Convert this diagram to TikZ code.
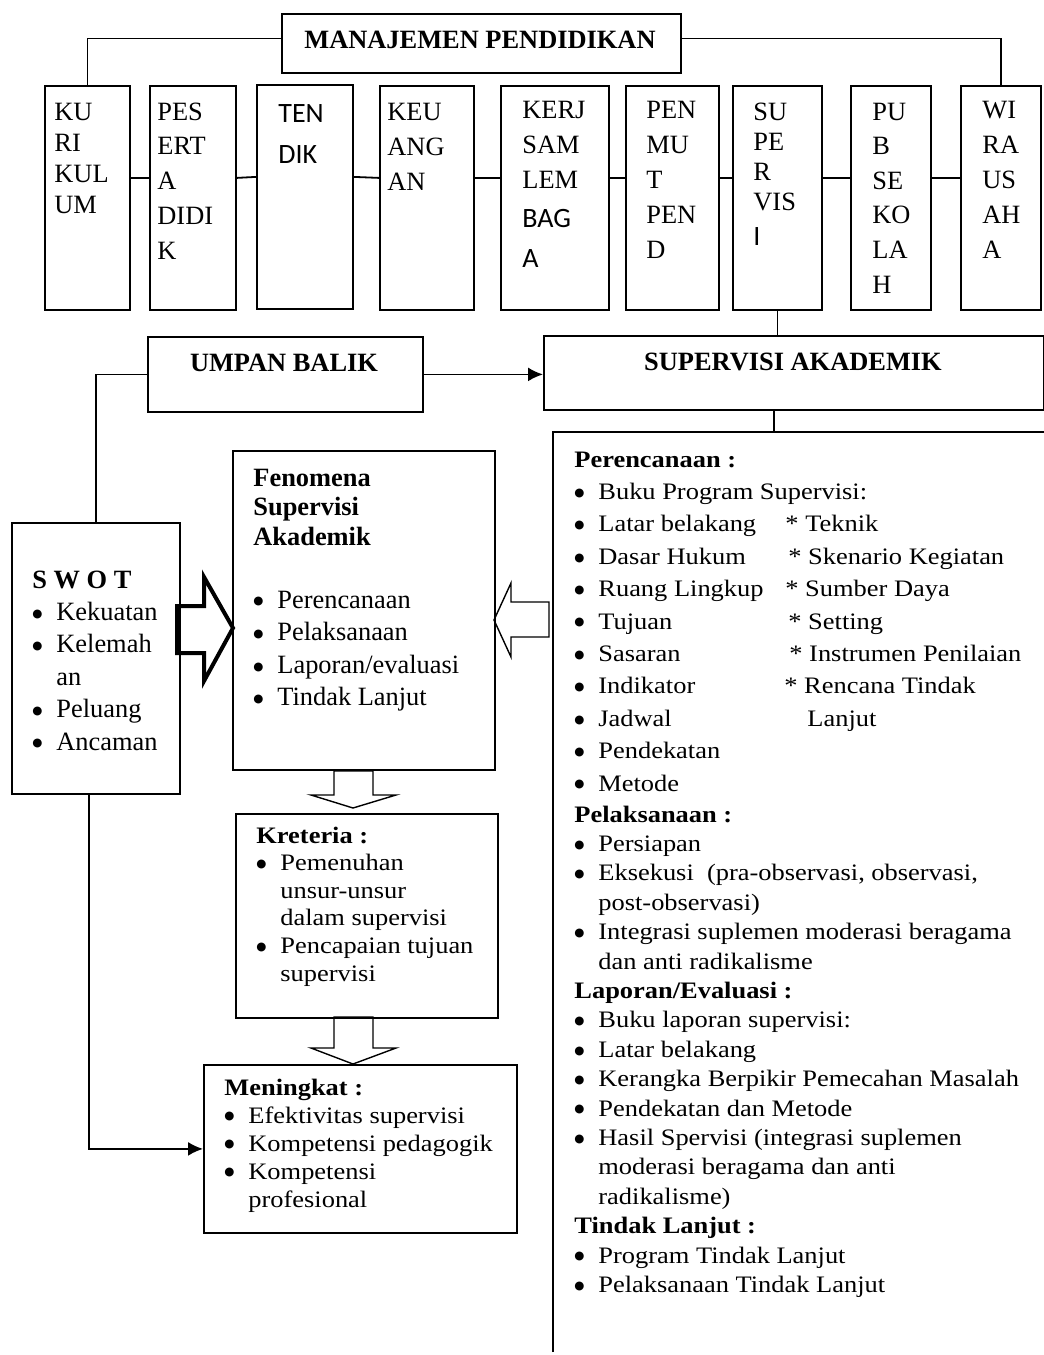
\documentclass[tikz,border=0pt]{standalone}
\usepackage{fontspec}
\setmainfont{Liberation Serif}
\newfontfamily\widefont{Liberation Serif}[FakeStretch=1.12]
\newfontfamily\calib{Carlito}
\newfontfamily\dotfont{DejaVu Sans}
\usetikzlibrary{arrows.meta}

\newcommand{\txtrows}[1]{\begin{tabular}[t]{@{}l@{}}#1\end{tabular}}
\newcommand{\itm}[1]{\makebox[12pt][l]{\raisebox{1.6pt}{\dotfont\fontsize{5.8}{6}\selectfont ●}}#1}
\newcommand{\ind}{\hspace*{12pt}}
\newcommand{\sansbig}{\calib\fontsize{14}{17.5}\selectfont}

\begin{document}
\begin{tikzpicture}[x=0.5pt,y=-0.5pt,>={Latex[length=7.5pt,width=7pt]},
    box/.style={draw,line width=0.9pt,rectangle,inner sep=0pt,anchor=north west},
    ln/.style={line width=0.9pt},
    hd/.style={anchor=base,inner sep=0pt,font=\bfseries\fontsize{13.2}{16}\selectfont},
    txt/.style={anchor=base west,inner sep=0pt},
    blk/.style={line width=0.7pt,line join=miter}]

    \useasboundingbox (0,0) rectangle (1044,1355);

    % top row
    \node[box,minimum width=199.5pt,minimum height=29.5pt] (manaj) at (281,13) {};
    \node[hd] (tmanaj) at (480,48) {MANAJEMEN PENDIDIKAN};

    \node[box,minimum width=42.5pt,minimum height=112pt] (kuri) at (44,85) {};
    \node[box,minimum width=43pt,minimum height=112pt] (pes) at (149,85) {};
    \node[box,minimum width=48pt,minimum height=112pt] (ten) at (256,84) {};
    \node[box,minimum width=47pt,minimum height=112pt] (keu) at (379,85) {};
    \node[box,minimum width=54pt,minimum height=112pt] (kerj) at (500,85) {};
    \node[box,minimum width=46.5pt,minimum height=112pt] (penmut) at (625,85) {};
    \node[box,minimum width=44.5pt,minimum height=112pt] (sup) at (732,85) {};
    \node[box,minimum width=40pt,minimum height=112pt] (pub) at (850,85) {};
    \node[box,minimum width=40pt,minimum height=112pt] (wira) at (960,85) {};

    \node[txt,font=\fontsize{13.2}{15.5}\selectfont] (tkuri) at (54,120) {\txtrows{KU\\RI\\KUL\\UM}};
    \node[txt,font=\fontsize{13.2}{17.4}\selectfont] (tpes) at (157,120) {\txtrows{PES\\ERT\\A\\DIDI\\K}};
    \node[txt,font=\calib\fontsize{14}{20.5}\selectfont] (tten) at (278,122) {\txtrows{TEN\\DIK}};
    \node[txt,font=\fontsize{13.2}{17.7}\selectfont] (tkeu) at (387,120) {\txtrows{KEU\\ANG\\AN}};
    \node[txt,font=\fontsize{13.2}{17.5}\selectfont] (tkerj) at (522,118) {\txtrows{KERJ\\SAM\\LEM\\[2pt]{\sansbig BAG}\\[2.5pt]{\sansbig A}}};
    \node[txt,font=\fontsize{13.2}{17.5}\selectfont] (tpenmut) at (646,118) {\txtrows{PEN\\MU\\T\\PEN\\D}};
    \node[txt,font=\fontsize{13.2}{15}\selectfont] (tsup) at (753,120) {\txtrows{SU\\PE\\R\\VIS\\[2.5pt]{\sansbig I}}};
    \node[txt,font=\fontsize{13.2}{17.3}\selectfont] (tpub) at (872,120) {\txtrows{PU\\B\\SE\\KO\\LA\\H}};
    \node[txt,font=\fontsize{13.2}{17.5}\selectfont] (twira) at (982,118) {\txtrows{WI\\RA\\US\\AH\\A}};

    \draw[ln] ([yshift=2.5pt]manaj.west) -| (kuri.north);
    \draw[ln] ([yshift=2.5pt]manaj.east) -| (wira.north);
    \foreach \a/\b in {kuri/pes,pes/ten,ten/keu,keu/kerj,kerj/penmut,penmut/sup,sup/pub,pub/wira}
        \draw[ln] ([yshift=10pt]\a.east) -- ([yshift=10pt]\b.west);

    % middle
    \node[box,minimum width=137.5pt,minimum height=37.5pt] (umpan) at (147,336) {};
    \node[hd] (tumpan) at (284,371) {UMPAN BALIK};
    \node[box,minimum width=250pt,minimum height=37pt] (supak) at (543,335) {};
    \node[hd] (tsupak) at (793,370) {SUPERVISI AKADEMIK};

    \node[box,minimum width=84pt,minimum height=135.5pt] (swot) at (11,522) {};
    \node[txt,font=\fontsize{13.2}{16.2}\selectfont] (tswot) at (32,588)
        {\txtrows{\textbf{S W O T}\\\itm{Kekuatan}\\\itm{Kelemah}\\\ind an\\\itm{Peluang}\\\itm{Ancaman}}};

    \draw[ln] (sup.south) -- (sup.south |- supak.north);
    \draw[ln,->] (umpan.east) -- (umpan.east -| supak.west);
    \draw[ln] (umpan.west) -| (swot.north);

    \coordinate (pnl) at (553,432);
    \draw[ln] (553,1352) -- (pnl) -- (1044,432);
    \draw[ln] ([xshift=-10pt]supak.south) -- ([xshift=-10pt]supak.south |- pnl);

    \node[box,minimum width=131pt,minimum height=159.5pt] (fen) at (232,450) {};
    \node[txt,font=\bfseries\fontsize{13.2}{14.75}\selectfont] (tfen) at (253,486)
        {\txtrows{Fenomena\\Supervisi\\Akademik}};
    \node[txt,font=\fontsize{13.2}{16.3}\selectfont] (tfenlist) at (253,608)
        {\txtrows{\itm{Perencanaan}\\\itm{Pelaksanaan}\\\itm{Laporan/evaluasi}\\\itm{Tindak Lanjut}}};

    % block arrows
    \draw[line width=2pt,line join=miter] (177,606) -- (204,606) -- (204,577) -- (233,628)
        -- (204,681) -- (204,653) -- (177,653) -- cycle;
    \draw[blk] (549,602) -- (511,602) -- (511,583) -- (494,620) -- (511,657) -- (511,637)
        -- (549,637) -- cycle;
    \draw[blk] (334,771) -- (373,771) -- (373,795) -- (396,795) -- (353,808) -- (311,795)
        -- (334,795) -- cycle;
    \draw[blk] (334,1017) -- (373,1017) -- (373,1048) -- (396,1048) -- (353,1064) -- (311,1048)
        -- (334,1048) -- cycle;

    % bottom left
    \node[box,minimum width=131pt,minimum height=102pt] (kret) at (235,813) {};
    \node[txt,font=\widefont\fontsize{11.8}{13.8}\selectfont] (tkret) at (256,843)
        {\txtrows{\textbf{Kreteria :}\\\itm{Pemenuhan}\\\ind unsur-unsur\\\ind dalam supervisi\\\itm{Pencapaian tujuan}\\\ind supervisi}};

    \node[box,minimum width=156.5pt,minimum height=84pt] (men) at (203,1064) {};
    \node[txt,font=\widefont\fontsize{11.8}{14}\selectfont] (tmen) at (224,1095)
        {\txtrows{\textbf{Meningkat :}\\\itm{Efektivitas supervisi}\\\itm{Kompetensi pedagogik}\\\itm{Kompetensi}\\\ind profesional}};

    \draw[ln,->] ([xshift=-3.5pt]swot.south) |- (men.west);

    % right panel
    \node[txt,font=\widefont\fontsize{11.8}{16.2}\selectfont] (tplan) at (574,467)
        {\txtrows{\textbf{Perencanaan :}\\
        \itm{Buku Program Supervisi:}\\
        \itm{\makebox[93.5pt][l]{Latar belakang}* Teknik}\\
        \itm{\makebox[95pt][l]{Dasar Hukum}* Skenario Kegiatan}\\
        \itm{\makebox[93.5pt][l]{Ruang Lingkup}* Sumber Daya}\\
        \itm{\makebox[95pt][l]{Tujuan}* Setting}\\
        \itm{\makebox[95.5pt][l]{Sasaran}* Instrumen Penilaian}\\
        \itm{\makebox[93pt][l]{Indikator}* Rencana Tindak}\\
        \itm{\makebox[104.5pt][l]{Jadwal}Lanjut}\\
        \itm{Pendekatan}\\
        \itm{Metode}}};
    \node[txt,font=\widefont\fontsize{11.8}{14.7}\selectfont] (trest) at (574,822)
        {\txtrows{\textbf{Pelaksanaan :}\\
        \itm{Persiapan}\\
        \itm{Eksekusi\ \ (pra-observasi, observasi,}\\
        \ind post-observasi)\\
        \itm{Integrasi suplemen moderasi beragama}\\
        \ind dan anti radikalisme\\
        \textbf{Laporan/Evaluasi :}\\
        \itm{Buku laporan supervisi:}\\
        \itm{Latar belakang}\\
        \itm{Kerangka Berpikir Pemecahan Masalah}\\
        \itm{Pendekatan dan Metode}\\
        \itm{Hasil Spervisi (integrasi suplemen}\\
        \ind moderasi beragama dan anti\\
        \ind radikalisme)\\
        \textbf{Tindak Lanjut :}\\
        \itm{Program Tindak Lanjut}\\
        \itm{Pelaksanaan Tindak Lanjut}}};
\end{tikzpicture}
\end{document}
